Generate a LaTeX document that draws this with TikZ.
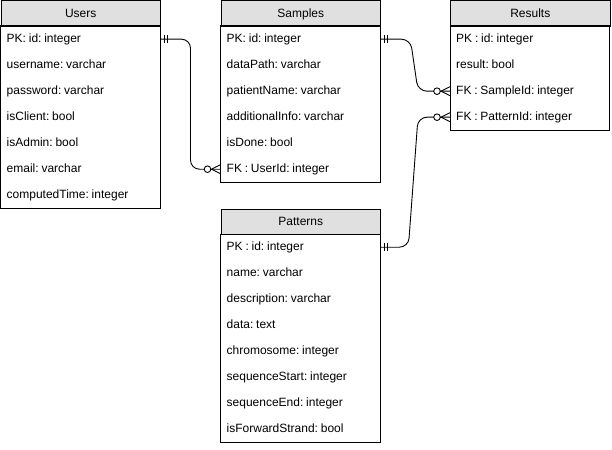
\documentclass[tikz,border=0pt]{standalone}
\usepackage{fontspec}
\setmainfont{Liberation Sans}
\usepackage{tikz}
\definecolor{headgray}{RGB}{224,224,224}

\tikzset{
  tablehead/.style={draw, line width=1pt, fill=headgray, anchor=north west,
    minimum width=159.5pt, minimum height=25.5pt, inner sep=0pt,
    font=\fontsize{12}{14}\selectfont, execute at begin node={\rule[-4pt]{0pt}{16pt}}},
  field/.style={anchor=north west, minimum height=26pt, inner xsep=6pt, inner ysep=0pt,
    text width=147.5pt, align=left, font=\fontsize{12}{14}\selectfont,
    execute at begin node={\frenchspacing\spaceskip=2.8pt\rule[-3.6pt]{0pt}{14.6pt}}},
  tablebody/.style={draw, line width=1pt},
  relline/.style={draw, line width=0.9pt, rounded corners=9pt},
  pics/oneone/.style={code={\draw[line width=0.9pt] (4,-4) -- (4,4) (7,-4) -- (7,4);}},
  pics/zeromany/.style={code={
      \draw[line width=0.9pt, fill=white] (-13,0) circle[radius=3.3];
      \draw[line width=0.9pt] (0,-4.5) -- (-9,0) -- (0,4.5);}},
}

\begin{document}
\begin{tikzpicture}[x=1pt, y=-1pt]
    \useasboundingbox (0,0) rectangle (612,449);

    % Users table
    \node[tablehead] (users) at (0.5,0.5) {Users};
    \foreach \txt [count=\i] in {PK: id: integer, username: varchar, password: varchar,
        isClient: bool, isAdmin: bool, email: varchar, computedTime: integer}
        \node[field] (users-\i) at (0.5,{26*\i}) {\txt};
    \draw[tablebody] (users-1.north west) rectangle (users-7.south east);

    % Samples table
    \node[tablehead] (samples) at (220.5,0.5) {Samples};
    \foreach \txt [count=\i] in {PK: id: integer, dataPath: varchar, patientName: varchar,
        additionalInfo: varchar, isDone: bool, FK : UserId: integer}
        \node[field] (samples-\i) at (220.5,{26*\i}) {\txt};
    \draw[tablebody] (samples-1.north west) rectangle (samples-6.south east);

    % Results table
    \node[tablehead] (results) at (450,0.5) {Results};
    \foreach \txt [count=\i] in {PK : id: integer, result: bool,
        FK : SampleId: integer, FK : PatternId: integer}
        \node[field] (results-\i) at (450,{26*\i}) {\txt};
    \draw[tablebody] (results-1.north west) rectangle (results-4.south east);

    % Patterns table
    \node[tablehead] (patterns) at (220.5,208.5) {Patterns};
    \foreach \txt [count=\i] in {PK : id: integer, name: varchar, description: varchar,
        data: text, chromosome: integer, sequenceStart: integer,
        sequenceEnd: integer, isForwardStrand: bool}
        \node[field] (patterns-\i) at (220.5,{208+26*\i}) {\txt};
    \draw[tablebody] (patterns-1.north west) rectangle (patterns-8.south east);

    % relations
    \draw[relline] (users-1.east) -| ([xshift=-30pt]samples-6.west) -- (samples-6.west);
    \draw[relline] (samples-1.east) -- ++(30,0) -- ([xshift=-32pt]results-3.west) -- (results-3.west);
    \draw[relline] (patterns-1.east) -- ++(28,0) -- ([xshift=-32pt]results-4.west) -- (results-4.west);

    \pic at (users-1.east) {oneone};
    \pic at (samples-1.east) {oneone};
    \pic at (patterns-1.east) {oneone};
    \pic at (samples-6.west) {zeromany};
    \pic at (results-3.west) {zeromany};
    \pic at (results-4.west) {zeromany};
\end{tikzpicture}
\end{document}
